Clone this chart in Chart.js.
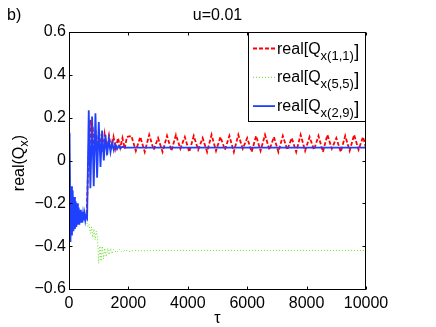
<!DOCTYPE html>
<html>
<head>
<meta charset="utf-8">
<script src="https://cdn.jsdelivr.net/npm/chart.js@4/dist/chart.umd.min.js"></script>
<style>
  body { margin: 0; background: #fff; }
  canvas { display: block; }
</style>
</head>
<body>
<canvas id="c" width="436" height="327"></canvas>
<script>
// tau positions and values
const tauRed = [0, 40, 80, 150, 250, 350, 450, 550, 600, 640, 680, 720, 760, 800, 850, 900, 950, 1000, 1050, 1100,
  1150, 1200, 1275, 1350, 1425, 1500, 1575, 1650, 1725, 1800, 1875, 1950,
  2100, 2250, 2400, 2550, 2700, 2850, 3000, 3150, 3300, 3450,
  3600, 3750, 3900, 4050, 4200, 4350, 4500, 4650, 4800, 4950,
  5100, 5250, 5400, 5550, 5700, 5850, 6000, 6150, 6300, 6450,
  6600, 6750, 6900, 7050, 7200, 7350, 7500, 7650, 7800, 7950,
  8100, 8250, 8400, 8550, 8700, 8850, 9000, 9150, 9300, 9450,
  9600, 9750, 9900, 10000];
const redVals = [0.0, -0.28, -0.26, -0.27, -0.27, -0.27, -0.27, -0.27, -0.24, -0.05, 0.12, 0.19, 0.02, 0.16, 0.03, 0.14, 0.04, 0.13, 0.04, 0.125,
  0.04, 0.12, 0.045, 0.115, 0.05, 0.11, 0.055, 0.105, 0.06, 0.105, 0.055, 0.11,
  0.115, 0.045, 0.11, 0.04, 0.12, 0.05, 0.105, 0.04, 0.115, 0.045,
  0.12, 0.055, 0.11, 0.04, 0.115, 0.05, 0.105, 0.04, 0.12, 0.045,
  0.11, 0.05, 0.115, 0.04, 0.12, 0.055, 0.105, 0.04, 0.115, 0.045,
  0.12, 0.05, 0.11, 0.04, 0.115, 0.05, 0.105, 0.04, 0.12, 0.045,
  0.11, 0.05, 0.115, 0.04, 0.12, 0.055, 0.105, 0.04, 0.115, 0.045,
  0.12, 0.05, 0.11, 0.06];

const tauGreen = [0, 40, 80, 150, 250, 350, 450, 550,
  600, 640, 680, 720, 760, 800, 840, 880, 920, 960,
  1000, 1040, 1080, 1120, 1160, 1200,
  1250, 1300, 1350, 1400, 1450, 1500,
  1600, 1700, 1800, 1900, 2000,
  2200, 2500, 3000, 10000];
const greenVals = [0.0, -0.28, -0.26, -0.27, -0.27, -0.27, -0.27, -0.27,
  -0.29, -0.31, -0.30, -0.34, -0.31, -0.36, -0.32, -0.37, -0.33, -0.36,
  -0.48, -0.40, -0.47, -0.40, -0.46, -0.41,
  -0.45, -0.41, -0.44, -0.41, -0.435, -0.415,
  -0.43, -0.415, -0.428, -0.418, -0.425,
  -0.42, -0.422, -0.42, -0.42];

const tauBlue = [0, 20, 50, 75,
  100, 125, 150, 175, 200, 225, 250, 275, 300, 325,
  350, 375, 400, 425, 450, 475, 500, 525, 550, 575,
  610,
  665, 720, 777, 833, 890, 946, 1003, 1060, 1115, 1172,
  1228, 1284, 1340, 1397, 1453, 1510, 1565, 1622, 1678, 1735, 1790,
  1900, 10000];
const blueVals = [0.13, 0.12, -0.38, -0.12,
  -0.35, -0.14, -0.33, -0.17, -0.32, -0.19, -0.31, -0.20, -0.30, -0.22,
  -0.30, -0.23, -0.29, -0.24, -0.29, -0.25, -0.28, -0.25, -0.28, -0.26,
  -0.27,
  0.235, -0.13, 0.205, -0.12, 0.22, -0.08, 0.18, -0.03, 0.14, 0.0,
  0.12, 0.025, 0.10, 0.04, 0.085, 0.048, 0.075, 0.054, 0.068, 0.057, 0.064,
  0.06, 0.06];

const xTicks = [0, 2000, 4000, 6000, 8000, 10000];
const yTicks = [-0.6, -0.4, -0.2, 0, 0.2, 0.4, 0.6];
const subs = ['x(1,1)', 'x(5,5)', 'x(2,9)'];
const colors = ['#ff0000', '#66dd22', '#1f40ff'];
const dashes = [[4, 2], [1, 2], []];
const widths = [1.8, 1, 1.8];

const FONT = '"Liberation Sans", Arial, sans-serif';
const pts = (t, v) => t.map((x, i) => ({ x: x, y: v[i] }));

const decor = {
  id: 'decor',
  afterDatasetsDraw(chart) {
    const { ctx, chartArea: a, scales: { x, y } } = chart;
    const L = Math.round(a.left) + 0.5, R = Math.round(a.right) - 0.5;
    const T = Math.round(a.top) + 0.5, B = Math.round(a.bottom) + 0.5;
    ctx.save();
    ctx.strokeStyle = '#000';
    ctx.lineWidth = 1;
    ctx.strokeRect(L, T, R - L, B - T);
    ctx.beginPath();
    xTicks.forEach(v => {
      const px = Math.round(x.getPixelForValue(v)) + 0.5;
      ctx.moveTo(px, B); ctx.lineTo(px, B - 3);
      ctx.moveTo(px, T); ctx.lineTo(px, T + 3);
    });
    yTicks.forEach(v => {
      const py = Math.round(y.getPixelForValue(v)) + 0.5;
      ctx.moveTo(L, py); ctx.lineTo(L + 3, py);
      ctx.moveTo(R, py); ctx.lineTo(R - 3, py);
    });
    ctx.stroke();

    // legend box
    const lx = 248.5, lw = R - lx, ly = T, lh = 89;
    ctx.fillStyle = '#fff';
    ctx.fillRect(lx, ly, lw, lh);
    ctx.strokeRect(lx, ly, lw, lh);
    subs.forEach((s, i) => {
      const cy = 48.5 + i * 28.8;
      ctx.save();
      ctx.strokeStyle = colors[i];
      ctx.lineWidth = widths[i];
      ctx.setLineDash(dashes[i]);
      ctx.beginPath();
      ctx.moveTo(253, cy); ctx.lineTo(275, cy);
      ctx.stroke();
      ctx.restore();
      ctx.fillStyle = '#000';
      ctx.textAlign = 'left';
      ctx.textBaseline = 'alphabetic';
      ctx.font = '16px ' + FONT;
      ctx.fillText('real[Q', 277, cy + 5);
      let w = ctx.measureText('real[Q').width;
      ctx.font = '13px ' + FONT;
      ctx.fillText(s, 277 + w, cy + 11);
      const w2 = ctx.measureText(s).width;
      ctx.font = '18px ' + FONT;
      ctx.fillText(']', 277 + w + w2 + 0.5, cy + 8);
    });
    ctx.restore();
  },
  afterDraw(chart) {
    const { ctx, chartArea: a } = chart;
    const cx = (a.left + a.right) / 2;
    ctx.save();
    ctx.fillStyle = '#000';
    ctx.textBaseline = 'alphabetic';
    ctx.font = '16px ' + FONT;
    ctx.textAlign = 'center';
    ctx.fillText('u=0.01', cx, 20);
    ctx.fillText('\u03c4', cx, 323);
    ctx.textAlign = 'left';
    ctx.fillText('b)', 7, 20);

    // y label: real(Q_x)
    ctx.translate(24, 163);
    ctx.rotate(-Math.PI / 2);
    ctx.font = '16px ' + FONT;
    const w1 = ctx.measureText('real(Q').width;
    ctx.font = '13px ' + FONT;
    const ws = ctx.measureText('x').width;
    ctx.font = '16px ' + FONT;
    const w3 = ctx.measureText(')').width;
    const start = -(w1 + ws + w3) / 2;
    ctx.fillText('real(Q', start, 0);
    ctx.font = '13px ' + FONT;
    ctx.fillText('x', start + w1, 4);
    ctx.font = '16px ' + FONT;
    ctx.fillText(')', start + w1 + ws, 0);
    ctx.restore();
  }
};

const fmtY = v => {
  const r = Math.round(v * 10) / 10;
  if (r === 0) return '0';
  return (r < 0 ? '\u2212' : '') + Math.abs(r).toFixed(1);
};

new Chart(document.getElementById('c'), {
  type: 'line',
  data: {
    datasets: [
      { label: 'real[Qx(1,1)]', data: pts(tauRed, redVals), borderColor: colors[0], borderWidth: widths[0], borderDash: dashes[0], order: 2 },
      { label: 'real[Qx(5,5)]', data: pts(tauGreen, greenVals), borderColor: colors[1], borderWidth: widths[1], borderDash: dashes[1], order: 1 },
      { label: 'real[Qx(2,9)]', data: pts(tauBlue, blueVals), borderColor: colors[2], borderWidth: widths[2], order: 0 }
    ]
  },
  options: {
    responsive: false,
    animation: false,
    events: [],
    elements: { point: { radius: 0 }, line: { tension: 0 } },
    layout: { padding: { top: 32, right: 70, left: 0, bottom: 0 } },
    plugins: { legend: { display: false }, tooltip: { enabled: false }, title: { display: false } },
    scales: {
      x: {
        type: 'linear', min: 0, max: 10000,
        afterFit: s => { s.height = 38; },
        afterBuildTicks: s => { s.ticks = xTicks.map(v => ({ value: v })); },
        grid: { display: false, drawTicks: false },
        border: { display: false },
        ticks: { color: '#000', font: { family: FONT, size: 16 }, padding: 5, maxRotation: 0, callback: v => String(v) }
      },
      y: {
        type: 'linear', min: -0.6, max: 0.6,
        afterFit: s => { s.width = 69; },
        afterBuildTicks: s => { s.ticks = yTicks.map(v => ({ value: v })); },
        grid: { display: false, drawTicks: false },
        border: { display: false },
        ticks: { color: '#000', font: { family: FONT, size: 16 }, padding: 3, callback: fmtY }
      }
    }
  },
  plugins: [decor]
});
</script>
</body>
</html>
